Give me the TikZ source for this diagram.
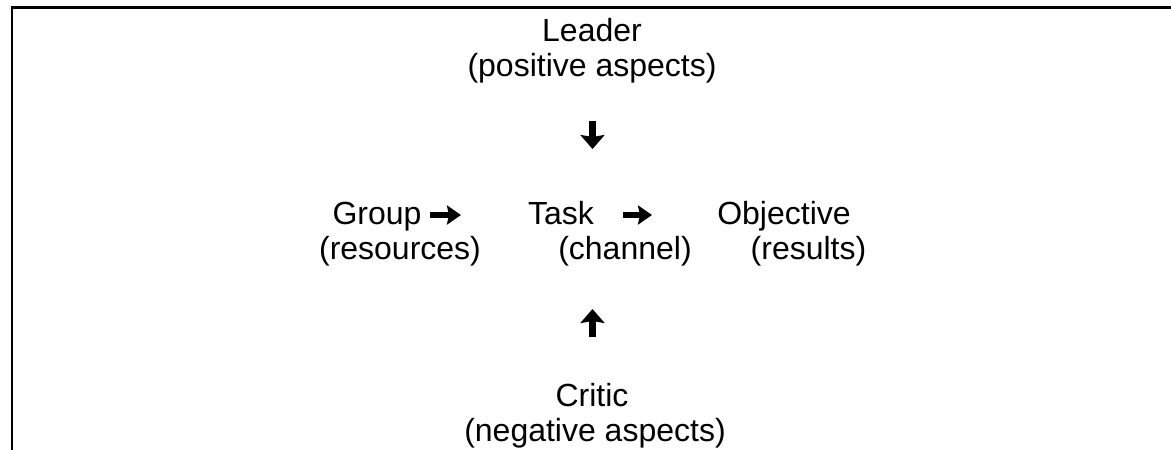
\documentclass[tikz,border=0pt]{standalone}
\usepackage{fontspec}
\setmainfont{Liberation Sans}
\usetikzlibrary{arrows.meta}
\tikzset{
    testo/.style={font=\fontsize{32}{35}\selectfont, inner sep=0pt, anchor=base},
    freccia/.style={line width=6.5pt, -{Stealth[width=24pt,length=14pt,inset=2pt]}},
    frecciadx/.style={line width=5.5pt, -{Stealth[width=19pt,length=14pt,inset=2pt]}}
}
\begin{document}
\begin{tikzpicture}[x=1pt, y=-1pt]
    \useasboundingbox (0,0) rectangle (1171,450);
    %bordo tabella
    \draw[line width=2.8pt] (12,451)--(12,7.7)--(1172,7.7);
    
    %testi in colonna
    \node[testo] (leader) at (592,41.5) {Leader};
    \node[testo] (pos) at (592,76.5) {(positive aspects)};
    \node[testo] (critic) at (592,406) {Critic};
    \node[testo] (neg) at (595,441) {(negative aspects)};
    
    %testi in riga
    \node[testo] (group) at (377,224) {Group};
    \node[testo] (task) at (561,224) {Task};
    \node[testo] (obj) at (784,224) {Objective};
    \node[testo] (res) at (400,259) {(resources)};
    \node[testo] (chan) at (625,259) {(channel)};
    \node[testo] (results) at (808.5,259) {(results)};
    
    %frecce
    \coordinate (giuA) at (592.5,121);
    \coordinate (giuB) at (592.5,149);
    \coordinate (suA) at (592.5,337);
    \coordinate (suB) at (592.5,309);
    \coordinate (dxA) at (430,215);
    \coordinate (dxB) at (461,215);
    \coordinate (dxC) at (623,215);
    \coordinate (dxD) at (652,215);
    \draw[freccia] (giuA)--(giuB);
    \draw[freccia] (suA)--(suB);
    \draw[frecciadx] (dxA)--(dxB);
    \draw[frecciadx] (dxC)--(dxD);
\end{tikzpicture}
\end{document}
